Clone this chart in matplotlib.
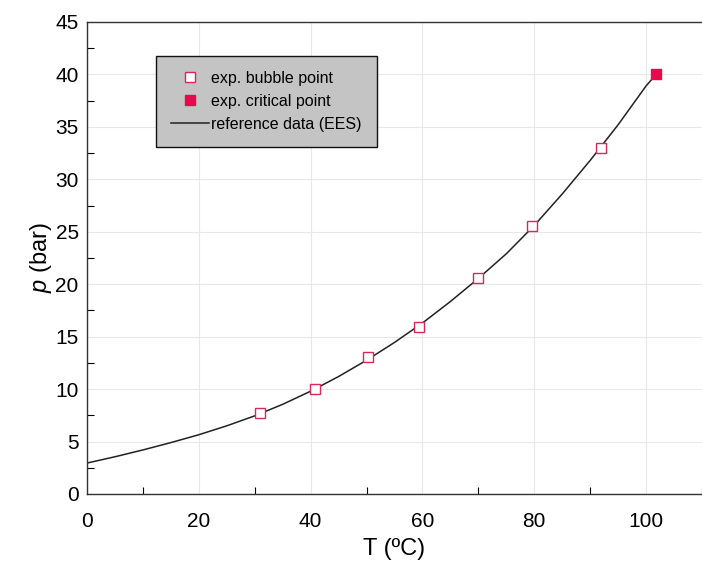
import matplotlib
matplotlib.use('Agg')
import matplotlib.pyplot as plt
from matplotlib.ticker import MultipleLocator

plt.rcParams['font.family'] = ['Liberation Sans', 'DejaVu Sans']
plt.rcParams['mathtext.fontset'] = 'custom'
plt.rcParams['mathtext.it'] = 'Liberation Sans:italic'
plt.rcParams['mathtext.rm'] = 'Liberation Sans'

# ── DATA ────────────────────────────────────────────────────────────────────
bubble_T = [30.9, 40.7, 50.2, 59.3, 70.0, 79.6, 92.0]
bubble_p = [7.7, 10.0, 13.1, 15.9, 20.6, 25.5, 33.0]

critical_T = [101.8]
critical_p = [40.0]

ref_T = [0, 5, 10, 15, 20, 25, 30, 35, 40, 45, 50, 55, 60, 65, 70,
         75, 80, 85, 90, 95, 100, 101.8]
ref_p = [2.95, 3.55, 4.2, 4.9, 5.65, 6.5, 7.45, 8.55, 9.8, 11.2, 12.75,
         14.45, 16.3, 18.35, 20.55, 22.9, 25.6, 28.6, 31.8, 35.2, 38.9, 40.0]

# ── FIGURE ──────────────────────────────────────────────────────────────────
fig = plt.figure(figsize=(7.02, 5.62), dpi=100)
ax = fig.add_axes([0.124, 0.121, 0.876, 0.840])

ax.grid(True, which='major', color='#e8e8e8', linewidth=0.8)
ax.set_axisbelow(True)

ax.plot(ref_T, ref_p, color='#222222', linewidth=1.1,
        label='reference data (EES)', zorder=2)
ax.plot(bubble_T, bubble_p, linestyle='none', marker='s', markersize=7,
        markerfacecolor='white', markeredgecolor='#d8285a',
        markeredgewidth=1.0, label='exp. bubble point', zorder=3)
ax.plot(critical_T, critical_p, linestyle='none', marker='s', markersize=7,
        markerfacecolor='#e8084e', markeredgecolor='#e8084e',
        label='exp. critical point', zorder=3)

ax.set_xlim(0, 110)
ax.set_ylim(0, 45)
ax.xaxis.set_major_locator(MultipleLocator(20))
ax.xaxis.set_minor_locator(MultipleLocator(10))
ax.yaxis.set_major_locator(MultipleLocator(5))
ax.yaxis.set_minor_locator(MultipleLocator(2.5))
ax.tick_params(which='major', length=0, labelsize=15)
ax.tick_params(axis='x', which='major', pad=13)
ax.tick_params(axis='y', which='major', pad=6)
ax.tick_params(which='minor', direction='in', length=5, width=0.8)
ax.tick_params(top=False, right=False, which='both')

for side in ['left', 'bottom', 'top']:
    ax.spines[side].set_color('#333333')
    ax.spines[side].set_linewidth(1.0)
ax.spines['right'].set_visible(False)

ax.set_xlabel('T (ºC)', fontsize=17, labelpad=5)
ax.set_ylabel('$p$ (bar)', fontsize=17, labelpad=1)

# legend order as in the reference: markers first, then the line
handles, labels = ax.get_legend_handles_labels()
order = [1, 2, 0]
leg = ax.legend([handles[i] for i in order], [labels[i] for i in order],
                loc='upper left', bbox_to_anchor=(0.112, 0.928),
                fontsize=11.5, frameon=True, fancybox=False, framealpha=1,
                facecolor='#c4c4c4', edgecolor='#111111',
                handlelength=2.4, handletextpad=0.1, labelspacing=0.5,
                borderpad=0.95, borderaxespad=0)
leg.get_frame().set_linewidth(1.0)

plt.savefig('out.png', dpi=100)
plt.close()
